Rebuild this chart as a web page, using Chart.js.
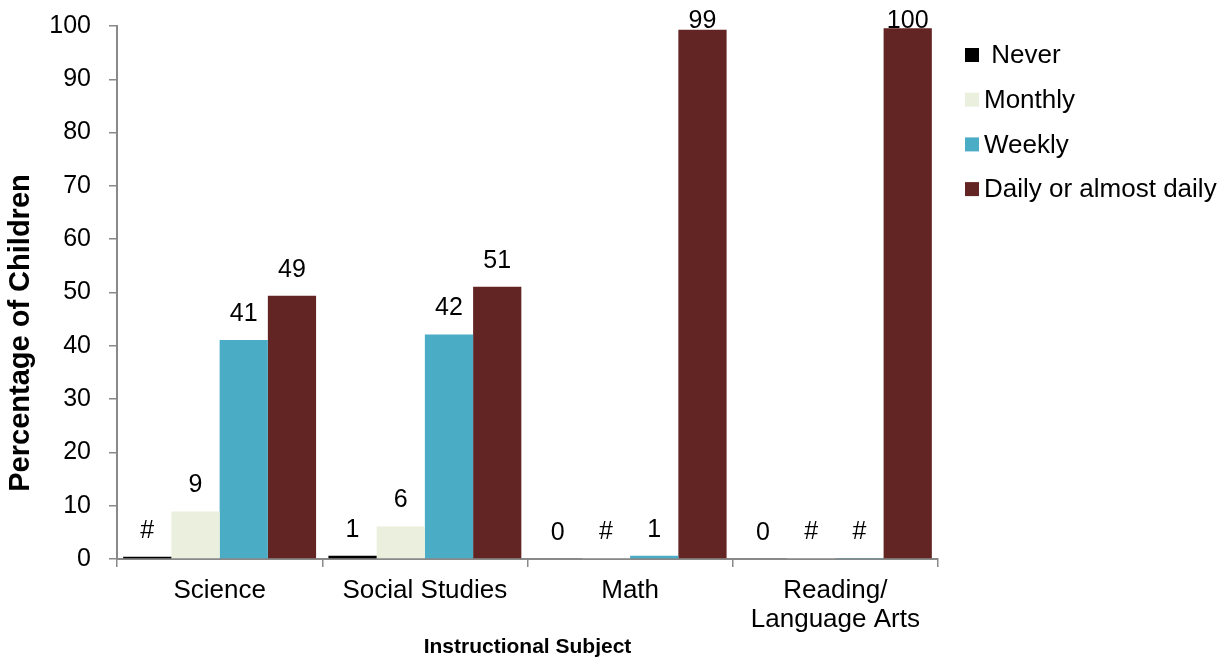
<!DOCTYPE html>
<html>
<head>
<meta charset="utf-8">
<script src="https://cdn.jsdelivr.net/npm/chart.js@4.4.1/dist/chart.umd.min.js"></script>
<style>
  html, body { margin: 0; padding: 0; background: #fff; }
  #wrap { width: 1228px; height: 666px; }
</style>
</head>
<body>
<div id="wrap"><canvas id="Chart-subjects" width="1228" height="666"></canvas></div>
<script>
var subjects = ['Science', 'Social Studies', 'Math', ['Reading/', 'Language Arts']];
var seriesNames = [' Never', 'Monthly', 'Weekly', 'Daily or almost daily'];
var never = [0.4, 0.6, 0, 0];
var monthly = [8.9, 6.1, 0.1, 0.1];
var weekly = [41.1, 42.1, 0.6, 0.1];
var daily = [49.4, 51.1, 99.3, 99.6];
var yTicks = [0, 10, 20, 30, 40, 50, 60, 70, 80, 90, 100];
var xTitle = 'Instructional Subject';
var yTitle = 'Percentage of Children';

var colors = ['#000000', '#EBF0DE', '#4BACC6', '#632523'];
var axisGray = '#898989';
var font = 'Liberation Sans, Arial, sans-serif';

function valueText(v) {
  if (v === 0) return '0';
  if (v < 0.5) return '#';
  return String(Math.round(v));
}

var valueLabels = {
  id: 'valueLabels',
  afterDatasetsDraw: function (chart) {
    var ctx = chart.ctx;
    ctx.save();
    ctx.font = '25px ' + font;
    ctx.fillStyle = '#000';
    ctx.textAlign = 'center';
    ctx.textBaseline = 'middle';
    chart.data.datasets.forEach(function (ds, i) {
      chart.getDatasetMeta(i).data.forEach(function (bar, j) {
        var y = Math.max(bar.y - 26, 21);
        ctx.fillText(valueText(ds.data[j]), bar.x, y);
      });
    });
    ctx.restore();
  }
};

var sideLegend = {
  id: 'sideLegend',
  afterDraw: function (chart) {
    var ctx = chart.ctx;
    ctx.save();
    ctx.font = '26px ' + font;
    ctx.textBaseline = 'middle';
    chart.data.datasets.forEach(function (ds, i) {
      var cy = 55 + i * 44.7;
      ctx.fillStyle = ds.backgroundColor;
      ctx.fillRect(965, cy - 7, 14, 14);
      ctx.fillStyle = '#000';
      ctx.fillText(ds.label, 984, cy + 1);
    });
    ctx.restore();
  }
};

// y title sits a bit below the middle of the axis in the original
var sideTitle = {
  id: 'sideTitle',
  afterDraw: function (chart) {
    var ctx = chart.ctx;
    ctx.save();
    ctx.font = 'bold 29px ' + font;
    ctx.fillStyle = '#000';
    ctx.textAlign = 'center';
    ctx.textBaseline = 'middle';
    ctx.translate(21, 333);
    ctx.rotate(-Math.PI / 2);
    ctx.fillText(yTitle, 0, 0);
    ctx.restore();
  }
};

var datasets = [never, monthly, weekly, daily].map(function (d, i) {
  return {
    label: seriesNames[i],
    data: d,
    backgroundColor: colors[i],
    borderWidth: 0,
    categoryPercentage: 0.94,
    barPercentage: 1.0
  };
});

var ctx = document.getElementById('Chart-subjects').getContext('2d');
var subjectChart = new Chart(ctx, {
  type: 'bar',
  data: { labels: subjects, datasets: datasets },
  plugins: [valueLabels, sideLegend, sideTitle],
  options: {
    responsive: false,
    animation: false,
    layout: { padding: { top: 26, right: 290, left: 0, bottom: 0 } },
    plugins: { legend: { display: false }, tooltip: { enabled: false } },
    scales: {
      x: {
        grid: { display: true, drawOnChartArea: false, drawTicks: true, tickLength: 8, color: axisGray, lineWidth: 1.5, offset: true },
        border: { color: axisGray, width: 2 },
        ticks: { color: '#000', font: { family: font, size: 26, lineHeight: 1.1 }, padding: 10, maxRotation: 0, autoSkip: false },
        title: { display: true, text: xTitle, color: '#000', font: { family: font, size: 21, weight: 'bold' }, padding: { top: 0, bottom: 6 } },
        afterFit: function (scale) { scale.height = 107; scale.paddingLeft = 0; scale.paddingRight = 0; }
      },
      y: {
        min: 0,
        max: 100,
        afterBuildTicks: function (scale) {
          scale.ticks = yTicks.map(function (v) { return { value: v }; });
        },
        grid: { display: true, drawOnChartArea: false, drawTicks: true, tickLength: 8, color: axisGray, lineWidth: 1.5 },
        border: { color: axisGray, width: 2 },
        ticks: { color: '#000', font: { family: font, size: 25 }, padding: 18 },
        title: { display: false },
        afterFit: function (scale) { scale.width = 117; scale.paddingTop = 0; scale.paddingBottom = 0; }
      }
    }
  }
});
</script>
</body>
</html>
